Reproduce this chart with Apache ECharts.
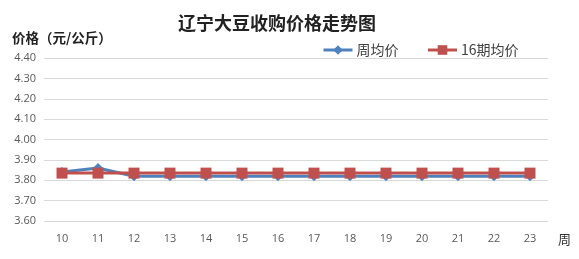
<!DOCTYPE html>
<html><head><meta charset="utf-8">
<script src="https://cdn.jsdelivr.net/npm/echarts@6/dist/echarts.min.js"></script>
<style>html,body{margin:0;padding:0;background:#fff}#c{width:579px;height:259px}</style>
</head><body><div id="c"></div>
<script>
var categories = ['10','11','12','13','14','15','16','17','18','19','20','21','22','23'];
var weeklyAvg = [3.84,3.86,3.82,3.82,3.82,3.82,3.82,3.82,3.82,3.82,3.82,3.82,3.82,3.82];
var avg16 = [3.835,3.835,3.835,3.835,3.835,3.835,3.835,3.835,3.835,3.835,3.835,3.835,3.835,3.835];
var chart = echarts.init(document.getElementById('c'));
chart.setOption({
  animation:false,
  title:{text:'辽宁大豆收购价格走势图',left:272,textAlign:'center',top:9,textStyle:{fontFamily:'Noto Sans CJK SC',fontSize:18,fontWeight:'bold',color:'#222'}},
  legend:{top:38,left:317,itemGap:28,itemWidth:29,itemHeight:12,
    lineStyle:{width:3},
    textStyle:{fontFamily:'Noto Sans CJK SC',fontSize:14,color:'#404040',padding:[0,0,0,-1]},
    data:['周均价','16期均价']},
  grid:{left:44,right:31,top:58,bottom:38},
  xAxis:{type:'category',data:categories,boundaryGap:true,name:'周',nameLocation:'end',nameGap:10,
    nameTextStyle:{fontFamily:'Noto Sans CJK SC',fontSize:13,color:'#333',verticalAlign:'top',padding:[12,0,0,0]},
    axisLine:{show:false},axisTick:{show:false},
    axisLabel:{color:'#595959',fontFamily:'Open Sans',fontSize:11,margin:12}},
  yAxis:{type:'value',min:3.6,max:4.4,interval:0.1,
    name:'价格（元/公斤）',nameLocation:'end',nameGap:13,
    nameTextStyle:{fontFamily:'Noto Sans CJK SC',fontSize:13.5,fontWeight:'bold',color:'#222',align:'left',padding:[0,0,0,-32]},
    axisLine:{show:false},axisTick:{show:false},
    axisLabel:{color:'#595959',fontFamily:'Open Sans',fontSize:11,formatter:function(v){return v.toFixed(2);}},
    splitLine:{lineStyle:{color:'#d9d9d9',width:1}}},
  series:[
    {name:'周均价',type:'line',data:weeklyAvg,symbol:'diamond',symbolSize:10,
      lineStyle:{color:'#4f81bd',width:3},itemStyle:{color:'#4f81bd'}},
    {name:'16期均价',type:'line',data:avg16,symbol:'rect',symbolSize:11,
      lineStyle:{color:'#c0504d',width:3},itemStyle:{color:'#c0504d'}}
  ]
});
</script></body></html>
